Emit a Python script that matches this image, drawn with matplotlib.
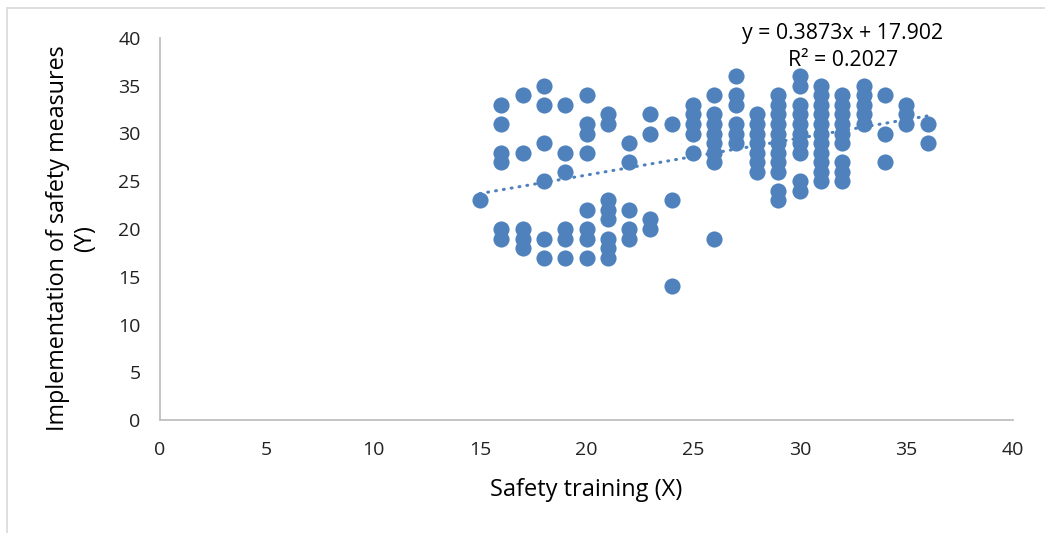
import numpy as np
import matplotlib
matplotlib.use('Agg')
from matplotlib import pyplot as plt
from matplotlib.patches import Rectangle

# Safety training score (X) -> observed safety-measure scores (Y)
x_values = [15, 16, 17, 18, 19, 20, 21, 22, 23, 24, 25, 26,
            27, 28, 29, 30, 31, 32, 33, 34, 35, 36]
y_groups = [
    [23],
    [33, 31, 28, 27, 20, 19],
    [34, 28, 20, 19, 18],
    [35, 33, 29, 25, 19, 17],
    [33, 28, 26, 20, 19, 17],
    [34, 31, 30, 28, 22, 20, 19, 17],
    [32, 31, 23, 22, 21, 19, 18, 17],
    [29, 27, 22, 20, 19],
    [32, 30, 21, 20],
    [31, 23, 14],
    [33, 32, 31, 30, 28],
    [34, 32, 31, 30, 29, 28, 27, 19],
    [36, 34, 33, 31, 30, 29],
    [32, 31, 30, 29, 28, 27, 26],
    [34, 33, 32, 31, 30, 29, 28, 27, 26, 24, 23],
    [36, 35, 33, 32, 31, 30, 29, 28, 25, 24],
    [35, 34, 33, 32, 31, 30, 29, 28, 27, 26, 25],
    [34, 33, 32, 31, 30, 29, 27, 26, 25],
    [35, 34, 33, 32, 31],
    [34, 30, 27],
    [33, 32, 31],
    [31, 29],
]
slope = 0.3873
intercept = 17.902
r_squared = 0.2027

xs = []
ys = []
for xv, group in zip(x_values, y_groups):
    for yv in group:
        xs.append(xv)
        ys.append(yv)

fontsize = 14
matplotlib.rc('font', family=['Open Sans', 'DejaVu Sans'], size=fontsize)

blue = '#4F81BD'
fig = plt.figure(figsize=(10.45, 5.33), dpi=100)
fig.patches.append(Rectangle((7 / 1045, -0.1), 1.2, 1.1 - 8 / 533,
                             transform=fig.transFigure, fill=False,
                             edgecolor='#D9D9D9', linewidth=1.2))
ax = fig.add_axes([160 / 1045, 113 / 533, 853 / 1045, 382 / 533])

ax.scatter(xs, ys, s=135, color=blue, linewidths=0, zorder=3)

trend_x = np.array([min(xs), max(xs)])
ax.plot(trend_x, slope * trend_x + intercept, color=blue, linewidth=2.2,
        linestyle=(0, (0.3, 2.3)), dash_capstyle='round', zorder=2)

ax.text(843 / 1045, 1 - 33 / 533, 'y = {}x + {}'.format(slope, intercept),
        transform=fig.transFigure, ha='center', va='center', fontsize=15.3)
ax.text(843 / 1045, 1 - 61 / 533, 'R² = {}'.format(r_squared),
        transform=fig.transFigure, ha='center', va='center', fontsize=15.3)

ax.set_xlim(0, 40)
ax.set_ylim(0, 40)
ax.set_xticks(range(0, 41, 5))
ax.set_yticks(range(0, 41, 5))
ax.tick_params(length=0, colors='#222222', labelsize=fontsize)
ax.tick_params(axis='x', pad=15)
ax.tick_params(axis='y', pad=14)
for side in ['top', 'right']:
    ax.spines[side].set_visible(False)
for side in ['left', 'bottom']:
    ax.spines[side].set_color('#BFBFBF')
    ax.spines[side].set_linewidth(1.3)

ax.set_xlabel('Safety training (X)', fontsize=17, labelpad=14)
ax.set_ylabel('Implementation of safety measures\n(Y)', fontsize=16.8,
              linespacing=1.15)
ax.yaxis.set_label_coords(-0.074, 0.476)

fig.savefig('out.png', dpi=100)
